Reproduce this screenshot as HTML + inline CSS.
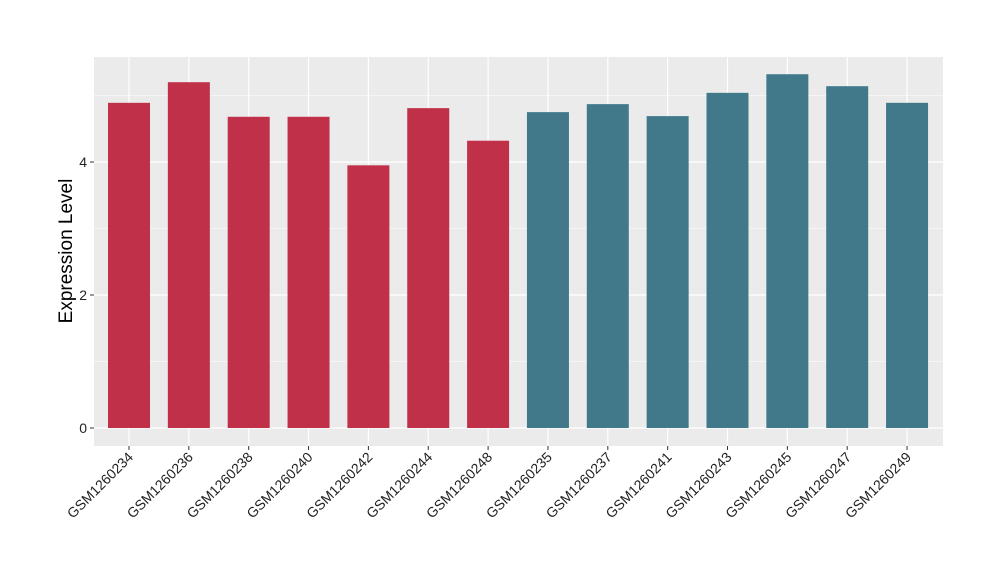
<!DOCTYPE html>
<html><head><meta charset="utf-8"><style>
body{margin:0;background:#fff;}
svg{display:block;font-family:"Liberation Sans",Arial,sans-serif;}
</style></head><body>
<svg id="chart" width="1000" height="580">
<rect x="94" y="57" width="849" height="389" fill="#ebebeb"/>
<g id="grid"></g><g id="bars"></g><g id="axes"></g>
<text transform="translate(72,251) rotate(-90)" text-anchor="middle" font-size="19" fill="#000">Expression Level</text>
</svg>
<script>
const categories=["GSM1260234","GSM1260236","GSM1260238","GSM1260240","GSM1260242","GSM1260244","GSM1260248","GSM1260235","GSM1260237","GSM1260241","GSM1260243","GSM1260245","GSM1260247","GSM1260249"];
const values=[4.89,5.20,4.68,4.68,3.95,4.81,4.32,4.75,4.87,4.69,5.04,5.32,5.14,4.89];
const groups=["a","a","a","a","a","a","a","b","b","b","b","b","b","b"];
const yTicks=[0,2,4];
const colors={a:"#c03049",b:"#41798a"};
const NS="http://www.w3.org/2000/svg";
const y=v=>428-v*66.5;
const x=i=>129+i*59.85;
function mk(tag,attrs,parent){const e=document.createElementNS(NS,tag);for(const k in attrs)e.setAttribute(k,attrs[k]);parent.appendChild(e);return e;}
const grid=document.getElementById('grid'),bars=document.getElementById('bars'),axes=document.getElementById('axes');
[1,3,5].forEach(v=>{const l=mk('line',{x1:94,x2:943,y1:y(v),y2:y(v),stroke:'#fff','stroke-width':0.6},grid);

});
yTicks.forEach(v=>{const l=mk('line',{x1:94,x2:943,y1:y(v),y2:y(v),stroke:'#fff','stroke-width':1.2},grid);


const t=mk('line',{x1:90,x2:94,y1:y(v),y2:y(v),stroke:'#333','stroke-width':1},axes);


const tx=mk('text',{x:87,y:y(v)+5,'text-anchor':'end','font-size':14,fill:'#222'},axes);tx.textContent=v;

});
categories.forEach((c,i)=>{
const g=mk('line',{x1:x(i),x2:x(i),y1:57,y2:446,stroke:'#fff','stroke-width':1.2},grid);


const b=mk('rect',{x:x(i)-21,y:y(values[i]),width:42,height:y(0)-y(values[i]),fill:colors[groups[i]]},bars);


const t=mk('line',{x1:x(i),x2:x(i),y1:446,y2:450,stroke:'#333','stroke-width':1},axes);


const tx=mk('text',{transform:`translate(${x(i)+5},${458}) rotate(-45)`,'text-anchor':'end','font-size':14,fill:'#222'},axes);tx.textContent=c;


});
</script>
</body></html>
